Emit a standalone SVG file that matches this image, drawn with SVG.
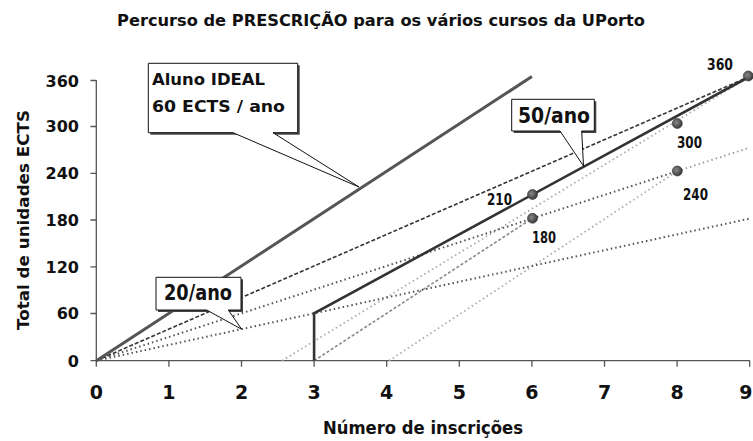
<svg xmlns="http://www.w3.org/2000/svg" width="753" height="441" viewBox="0 0 753 441">
<style>
text{font-family:"DejaVu Sans","Liberation Sans",sans-serif;font-weight:bold;fill:#111}
.yl{font-size:16px;text-anchor:end}
.xl{font-size:19px;text-anchor:middle}
.pl{font-size:15px}
.ax{stroke:#555;stroke-width:1.3;fill:none}
.box{fill:#fff;stroke:#111;stroke-width:1}
.shadow{fill:#444}
.ln{fill:none}
.dot{fill:url(#dotg);stroke:#333;stroke-width:0.6}
</style>
<defs>
<radialGradient id="dotg" cx="0.4" cy="0.4" r="0.65">
<stop offset="0" stop-color="#888"/>
<stop offset="1" stop-color="#333"/>
</radialGradient>
</defs>
<rect width="753" height="441" fill="#fff"/>

<g id="title">
<text x="381" y="26" font-size="15.5" text-anchor="middle" textLength="528" lengthAdjust="spacingAndGlyphs">Percurso de PRESCRIÇÃO para os vários cursos da UPorto</text>
</g>

<g id="axis-y">
<path class="ax" d="M96.3,80 V361 M90.5,80.5 H96.3 M90.5,126.5 H96.3 M90.5,173.3 H96.3 M90.5,220 H96.3 M90.5,266.8 H96.3 M90.5,313.5 H96.3 M90.5,360.7 H96.3"/>
<text class="yl" x="79" y="86.5">360</text>
<text class="yl" x="79" y="132.3">300</text>
<text class="yl" x="79" y="179.1">240</text>
<text class="yl" x="79" y="225.8">180</text>
<text class="yl" x="79" y="272.6">120</text>
<text class="yl" x="79" y="319.3">60</text>
<text class="yl" x="79" y="366.5">0</text>
<text x="28.5" y="220" font-size="16.5" text-anchor="middle" transform="rotate(-90 28.5 220)" textLength="220" lengthAdjust="spacingAndGlyphs">Total de unidades ECTS</text>
</g>

<g id="axis-x">
<path class="ax" d="M96.3,360.7 H750 M96.3,360.7 V366.7 M168.9,360.7 V366.7 M241.5,360.7 V366.7 M314.1,360.7 V366.7 M386.7,360.7 V366.7 M459.3,360.7 V366.7 M531.9,360.7 V366.7 M604.5,360.7 V366.7 M677.1,360.7 V366.7 M749.7,360.7 V366.7"/>
<text class="xl" x="96.3" y="399">0</text>
<text class="xl" x="168.9" y="399">1</text>
<text class="xl" x="241.5" y="399">2</text>
<text class="xl" x="314.1" y="399">3</text>
<text class="xl" x="386.7" y="399">4</text>
<text class="xl" x="459.3" y="399">5</text>
<text class="xl" x="531.9" y="399">6</text>
<text class="xl" x="604.5" y="399">7</text>
<text class="xl" x="677.1" y="399">8</text>
<text x="752.5" y="399" font-size="19" text-anchor="end">9</text>
<text x="423" y="434" font-size="17" text-anchor="middle" textLength="200" lengthAdjust="spacingAndGlyphs">Número de inscrições</text>
</g>

<g id="connectors">
<path id="line-4-240" class="ln" d="M389,360.7 L677.1,171.2" stroke="#aaa" stroke-width="1.8" stroke-dasharray="1.5 3"/>
<path id="line-25-360" class="ln" d="M282,360.7 L749.7,76.5" stroke="#aaa" stroke-width="1.8" stroke-dasharray="1.5 3"/>
<path id="line-3-180" class="ln" d="M314.1,360.7 L531.9,218.6" stroke="#888" stroke-width="1.6" stroke-dasharray="3 2"/>
<path id="line-20" class="ln" d="M96.3,360.7 L749.7,218.6" stroke="#555" stroke-width="2" stroke-dasharray="1.5 3"/>
<path id="line-30a" class="ln" d="M96.3,360.7 L677.1,171.2" stroke="#555" stroke-width="2" stroke-dasharray="1.5 3"/>
<path id="line-30b" class="ln" d="M677.1,171.2 L749.7,147.6" stroke="#999" stroke-width="1.8" stroke-dasharray="1.5 3"/>
<path id="line-40" class="ln" d="M96.3,360.7 L749.7,76.5" stroke="#333" stroke-width="1.6" stroke-dasharray="4 2"/>
<path id="line-50" class="ln" d="M314.1,360.7 V313.3 L749.7,76.5" stroke="#333" stroke-width="2.6"/>
<path id="line-ideal" class="ln" d="M96.3,360.7 L531.9,76.5" stroke="#555" stroke-width="3"/>
</g>

<g id="point-210">
<circle class="dot" cx="532.5" cy="194.5" r="5"/>
<text class="pl" x="487" y="205" textLength="25" lengthAdjust="spacingAndGlyphs">210</text>
</g>
<g id="point-180">
<circle class="dot" cx="532.5" cy="218.3" r="5"/>
<text class="pl" x="532" y="242.5" textLength="24" lengthAdjust="spacingAndGlyphs">180</text>
</g>
<g id="point-300">
<circle class="dot" cx="677.3" cy="123.5" r="5"/>
<text class="pl" x="677" y="148" textLength="25" lengthAdjust="spacingAndGlyphs">300</text>
</g>
<g id="point-240">
<circle class="dot" cx="677.3" cy="171" r="5"/>
<text class="pl" x="683" y="200" textLength="25" lengthAdjust="spacingAndGlyphs">240</text>
</g>
<g id="point-360">
<circle class="dot" cx="748.3" cy="76" r="5"/>
<text class="pl" x="707" y="70" textLength="26" lengthAdjust="spacingAndGlyphs">360</text>
</g>

<g id="callout-ideal">
<rect class="shadow" x="150.3" y="65.3" width="149.4" height="69.4"/>
<path class="box" d="M148.3,63.3 H297.7 V132.7 H273 L359,187 L233,132.7 H148.3 Z"/>
<text x="152" y="85" font-size="16" textLength="113" lengthAdjust="spacingAndGlyphs">Aluno IDEAL</text>
<text x="152" y="112" font-size="16" textLength="133" lengthAdjust="spacingAndGlyphs">60 ECTS / ano</text>
</g>

<g id="callout-50">
<rect class="shadow" x="513.7" y="101.3" width="82.6" height="31.7"/>
<path class="box" d="M511.7,99.3 H594.3 V131 H581.7 L583.5,166 L560,131 H511.7 Z"/>
<text x="518" y="123" font-size="21" textLength="72" lengthAdjust="spacingAndGlyphs">50/ano</text>
</g>

<g id="callout-20">
<rect class="shadow" x="158" y="279.3" width="85" height="32.7"/>
<path class="box" d="M156,277.3 H241 V310 H228.3 L241.7,329.3 L206.7,310 H156 Z"/>
<text x="164" y="300" font-size="21" textLength="68" lengthAdjust="spacingAndGlyphs">20/ano</text>
</g>
</svg>
